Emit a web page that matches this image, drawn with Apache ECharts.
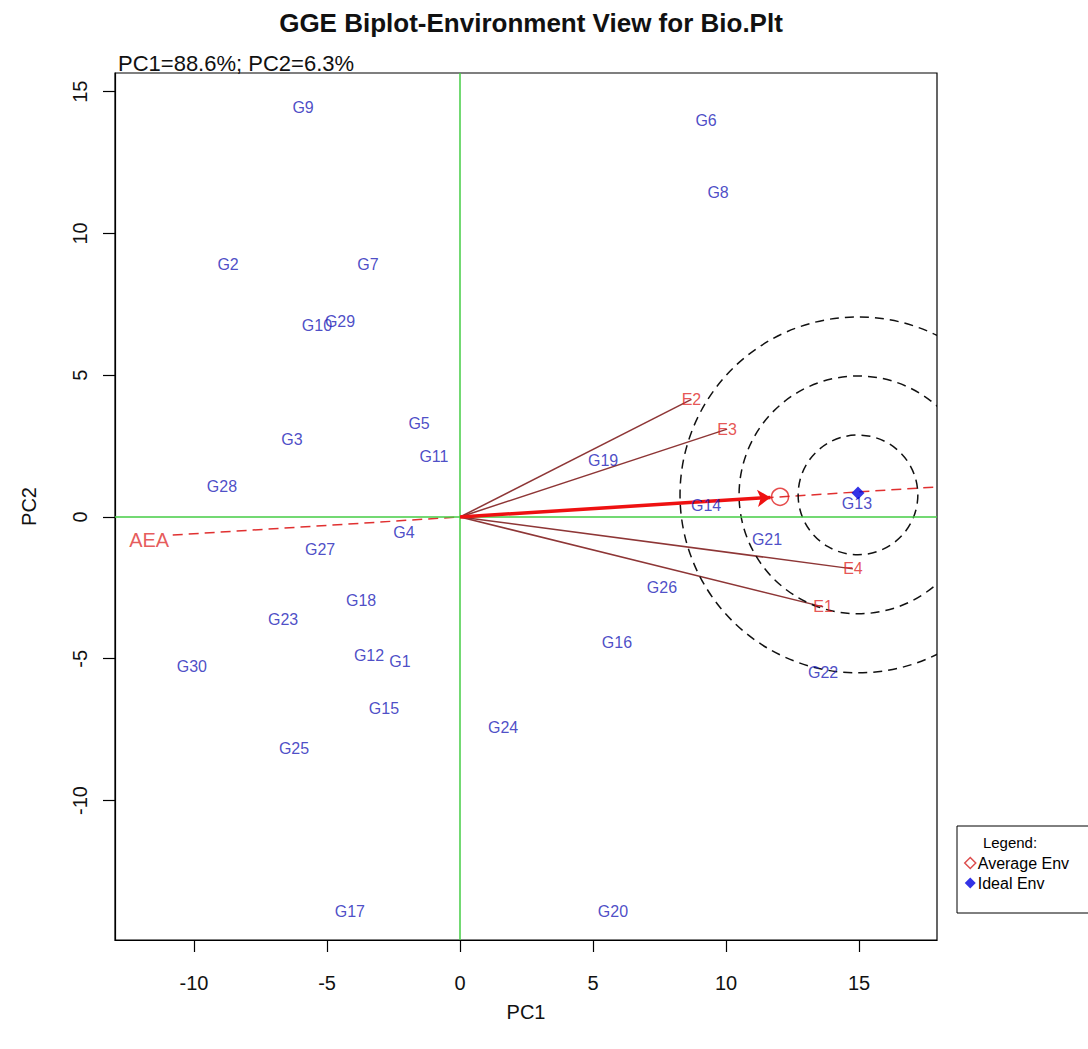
<!DOCTYPE html>
<html><head><meta charset="utf-8">
<script src="https://cdn.jsdelivr.net/npm/echarts@6/dist/echarts.min.js"></script>
<style>html,body{margin:0;padding:0;background:#fff}#c{width:1088px;height:1049px}</style>
</head><body><div id="c"></div>
<script>
// ---------------- data ----------------
const genotypes = ['G1','G2','G3','G4','G5','G6','G7','G8','G9','G10',
  'G11','G12','G13','G14','G15','G16','G17','G18','G19','G20',
  'G21','G22','G23','G24','G25','G26','G27','G28','G29','G30'];
const genoPC1 = [-2.26,-8.72,-6.32,-2.11,-1.54, 9.25,-3.46, 9.70,-5.90,-5.38,
  -0.98,-3.42,14.92, 9.25,-2.86, 5.90,-4.14,-3.72, 5.38, 5.75,
  11.54,13.65,-6.65, 1.62,-6.24, 7.59,-5.26,-8.95,-4.51,-10.08];
const genoPC2 = [-5.11, 8.92, 2.72,-0.56, 3.28,14.00, 8.92,11.46,14.43, 6.74,
   2.12,-4.90, 0.49, 0.42,-6.74,-4.41,-13.93,-2.96, 2.01,-13.93,
  -0.81,-5.50,-3.60,-7.44,-8.18,-2.47,-1.13, 1.06, 6.88,-5.29];
const envNames = ['E1','E2','E3','E4'];
const envPC1 = [13.65, 8.70, 10.04, 14.77];
const envPC2 = [-3.17, 4.15, 3.10, -1.83];
const averageEnv = [12.03, 0.71];
const idealEnv = [14.96, 0.85];
const ringRadii = [2.25, 4.47, 6.69];
const aeaExtent = [-10.8, 18.5];
const xTicks = [-10, -5, 0, 5, 10, 15];
const yTicks = [-10, -5, 0, 5, 10, 15];
const xRange = [-12.97, 17.93];
const yRange = [-14.92, 15.66];
const titleText = 'GGE Biplot-Environment View for Bio.Plt';
const subtitleText = 'PC1=88.6%; PC2=6.3%';
const xName = 'PC1', yName = 'PC2';
const legendTitle = 'Legend:';
const legendNames = ['Average Env', 'Ideal Env'];

// ---------------- chart ----------------
const FONT = '"Liberation Sans", Arial, sans-serif';
const arrowShrink = 0.97;
const aeaSlope = averageEnv[1] / averageEnv[0];
const chart = echarts.init(document.getElementById('c'), null, {renderer: 'svg'});

const axisCommon = {
  type: 'value',
  axisLine: {show: true, onZero: false, lineStyle: {color: '#000', width: 1.2}},
  splitLine: {show: false},
  nameLocation: 'middle',
  nameTextStyle: {fontSize: 20, color: '#111', fontFamily: FONT}
};

const option = {
  backgroundColor: '#fff',
  animation: false,
  title: [
    {text: titleText, left: 526, top: 5, textAlign: 'center',
     textStyle: {fontSize: 26, fontWeight: 'bold', color: '#111', fontFamily: FONT}},
    {text: subtitleText, left: 113, top: 47,
     textStyle: {fontSize: 22, fontWeight: 'normal', color: '#111', fontFamily: FONT}}
  ],
  grid: {left: 115, top: 73, width: 822, height: 867, show: true,
         borderColor: '#000', borderWidth: 1.2, backgroundColor: 'transparent'},
  xAxis: Object.assign({}, axisCommon, {
    min: xRange[0], max: xRange[1], name: xName, nameGap: 62,
    axisTick: {show: true, length: 12, customValues: xTicks, lineStyle: {color: '#000', width: 1.2}},
    axisLabel: {customValues: xTicks, fontSize: 20, color: '#111', margin: 33, fontFamily: FONT}
  }),
  yAxis: Object.assign({}, axisCommon, {
    min: yRange[0], max: yRange[1], name: yName, nameGap: 76,
    axisTick: {show: true, length: 12, customValues: yTicks, lineStyle: {color: '#000', width: 1.2}},
    axisLabel: {customValues: yTicks, fontSize: 20, color: '#111', margin: 25, rotate: 90, fontFamily: FONT}
  }),
  legend: {
    data: [
      {name: legendNames[0], icon: 'diamond',
       itemStyle: {color: '#fff', borderColor: '#d42020', borderWidth: 1.5}},
      {name: legendNames[1], icon: 'diamond', itemStyle: {color: '#0000e0'}}
    ],
    orient: 'vertical', left: 959, top: 850, itemWidth: 11, itemHeight: 11, itemGap: 4,
    selectedMode: false, z: 20,
    textStyle: {fontSize: 16, color: '#000', fontFamily: FONT, padding: [0, 0, 0, -3]}
  },
  graphic: [
    {type: 'rect', z: 5, shape: {x: 957, y: 826, width: 140, height: 87},
     style: {fill: '#fff', stroke: '#000', lineWidth: 1}},
    {type: 'text', z: 6, x: 1010, y: 842,
     style: {text: legendTitle, fontSize: 15, fontFamily: FONT, fill: '#000',
             textAlign: 'center', textVerticalAlign: 'middle'}}
  ],
  series: [
    { // zero reference lines
      type: 'scatter', data: [[0, 0]], symbolSize: 0, z: 1, silent: true,
      markLine: {silent: true, symbol: 'none', label: {show: false},
        lineStyle: {color: '#44cc44', width: 1.5, type: 'solid'},
        data: [{xAxis: 0}, {yAxis: 0}]}
    },
    { // environment vectors
      type: 'lines', coordinateSystem: 'cartesian2d', z: 3, silent: true,
      lineStyle: {color: '#8e3636', width: 1.5, opacity: 1},
      data: envNames.map((e, i) => ({coords: [[0, 0], [envPC1[i], envPC2[i]]]}))
    },
    { // AEA dashed line
      type: 'line', z: 3, symbol: 'none', silent: true,
      lineStyle: {color: '#e03030', width: 1.5, type: [10, 6]},
      data: aeaExtent.map(x => [x, x * aeaSlope])
    },
    { // AEA label
      type: 'scatter', z: 4, symbolSize: 1, itemStyle: {color: 'rgba(0,0,0,0)'},
      data: [{name: 'AEA', value: [aeaExtent[0], aeaExtent[0] * aeaSlope]}],
      label: {show: true, position: 'left', distance: 3, offset: [0, 5], formatter: '{b}',
              color: '#e03030', fontSize: 20, fontFamily: FONT}
    },
    { // average env arrow
      type: 'lines', coordinateSystem: 'cartesian2d', z: 5, silent: true,
      symbol: ['none', 'arrow'], symbolSize: 13,
      lineStyle: {color: '#ee1111', width: 3.5, opacity: 1},
      data: [{coords: [[0, 0], [averageEnv[0] * arrowShrink, averageEnv[1] * arrowShrink]]}]
    },
    { // concentric rings around ideal env
      type: 'custom', z: 4, clip: true, silent: true,
      encode: {x: 0, y: 1},
      data: ringRadii.map(r => [idealEnv[0], idealEnv[1], r]),
      renderItem: function (params, api) {
        const c = api.coord([api.value(0), api.value(1)]);
        const r = api.size([api.value(2), 0])[0];
        return {type: 'circle', shape: {cx: c[0], cy: c[1] + 2, r: r},
                style: {fill: 'none', stroke: '#111', lineWidth: 1.5, lineDash: [9, 6]}};
      }
    },
    { // genotypes
      type: 'scatter', z: 6, symbolSize: 1, itemStyle: {color: 'rgba(0,0,0,0)'},
      data: genotypes.map((g, i) => ({name: g, value: [genoPC1[i], genoPC2[i]]})),
      label: {show: true, position: 'inside', formatter: '{b}', color: '#2020b8',
              fontSize: 16, fontFamily: FONT}
    },
    { // environments labels
      type: 'scatter', z: 6, symbolSize: 1, itemStyle: {color: 'rgba(0,0,0,0)'},
      data: envNames.map((e, i) => ({name: e, value: [envPC1[i], envPC2[i]]})),
      label: {show: true, position: 'inside', formatter: '{b}', color: '#e02828',
              fontSize: 16, fontFamily: FONT}
    },
    {
      name: legendNames[0], type: 'scatter', z: 7, symbol: 'circle', symbolSize: 17,
      itemStyle: {color: 'rgba(255,255,255,0)', borderColor: '#e02020', borderWidth: 1.5},
      data: [averageEnv]
    },
    {
      name: legendNames[1], type: 'scatter', z: 7, symbol: 'diamond', symbolSize: 13,
      itemStyle: {color: '#0000e0'},
      data: [idealEnv]
    }
  ]
};
chart.setOption(option);
</script>
</body></html>
